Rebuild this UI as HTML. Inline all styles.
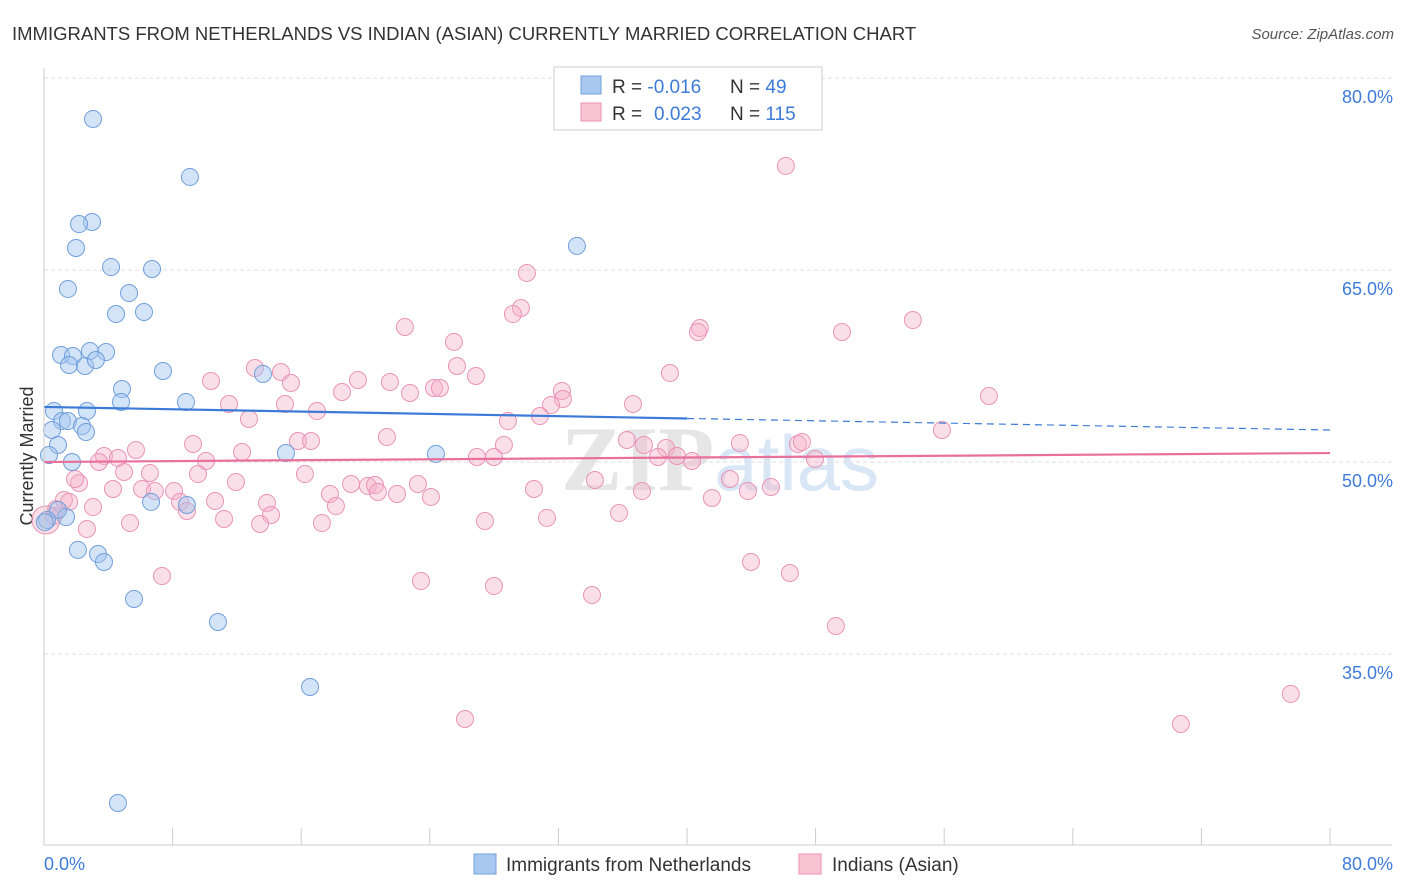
<!DOCTYPE html>
<html><head><meta charset="utf-8"><style>
body{margin:0;background:#fff;font-family:"Liberation Sans",sans-serif;}
#wrap{position:relative;width:1406px;height:892px;overflow:hidden;}
</style></head><body>
<div id="wrap">
<svg id="svg" width="1406" height="892" xmlns="http://www.w3.org/2000/svg">
<text x="12" y="40" font-size="18.5" fill="#333">IMMIGRANTS FROM NETHERLANDS VS INDIAN (ASIAN) CURRENTLY MARRIED CORRELATION CHART</text>
<text x="1394" y="39" font-size="15" fill="#555" font-style="italic" text-anchor="end">Source: ZipAtlas.com</text>
<text x="720" y="490" font-size="92" fill="#e6e6e6" text-anchor="middle" font-family="Liberation Serif,serif" font-weight="bold">ZIP<tspan fill="#d8e6f6" font-family="Liberation Sans,sans-serif" font-weight="normal" font-size="78">atlas</tspan></text>
<text transform="translate(33,456) rotate(-90)" font-size="18" fill="#333" text-anchor="middle">Currently Married</text>
<g id="grid"></g><g id="pts"></g><g id="trend"></g>
<line x1="44" y1="68" x2="44" y2="845" stroke="#ccc"/>
<line x1="44" y1="845" x2="1392" y2="845" stroke="#ccc"/>
<text x="44" y="870" font-size="18" fill="#3d7bd8">0.0%</text>
<text x="1393" y="870" font-size="18" fill="#3d7bd8" text-anchor="end">80.0%</text>
<g>
<rect x="554" y="67" width="268" height="63" fill="#fff" stroke="#ccc"/>
<rect x="581" y="76" width="20" height="18" fill="#a8c8f0" stroke="#6fa0dc"/>
<rect x="581" y="103" width="20" height="18" fill="#f8c4d4" stroke="#e890b0"/>
<text x="612" y="93" font-size="19" fill="#333">R = <tspan fill="#3d7bd8">-0.016</tspan><tspan x="730">N = </tspan><tspan fill="#3d7bd8">49</tspan></text>
<text x="612" y="120" font-size="19" fill="#333">R = <tspan fill="#3d7bd8" x="654">0.023</tspan><tspan x="730">N = </tspan><tspan fill="#3d7bd8">115</tspan></text>
</g>
<g>
<rect x="474" y="854" width="22" height="20" fill="#a8c8f0" stroke="#6fa0dc"/>
<text x="506" y="871" font-size="19" fill="#333">Immigrants from Netherlands</text>
<rect x="799" y="854" width="22" height="20" fill="#f8c4d4" stroke="#e890b0"/>
<text x="832" y="871" font-size="19" fill="#333">Indians (Asian)</text>
</g>
</svg>
</div>
<script>
const yTicks=[80,65,50,35];
const xTickVals=[0,8,16,24,32,40,48,56,64,72,80];
const blueX=[3.05,9.08,2.99,2.18,1.99,33.15,4.17,6.72,1.49,5.29,4.48,6.22,1.06,1.80,2.86,3.86,1.56,2.55,3.23,7.40,13.62,4.85,4.79,8.83,0.62,2.67,1.12,1.49,2.36,2.61,0.50,0.87,0.31,1.74,15.05,24.38,6.66,8.89,1.37,0.87,2.11,3.36,3.73,5.60,10.82,16.55,4.60,0.19,0.05];
const blueY=[76.8,72.27,68.75,68.59,66.72,66.88,65.23,65.08,63.52,63.2,61.56,61.72,58.36,58.28,58.67,58.59,57.58,57.5,57.97,57.11,56.88,55.7,54.69,54.69,53.98,53.98,53.2,53.2,52.81,52.34,52.5,51.33,50.55,50.0,50.7,50.63,46.88,46.64,45.7,46.25,43.13,42.81,42.19,39.3,37.5,32.42,23.36,45.47,45.3];
const pinkX=[46.15,30.04,29.67,29.17,22.45,40.80,40.68,49.64,54.05,25.50,25.69,26.87,38.94,13.12,14.74,15.36,10.39,19.53,21.52,18.54,22.77,24.26,24.63,32.22,32.28,31.54,58.78,11.51,14.99,16.98,30.85,12.75,28.86,36.64,55.86,21.33,15.80,16.61,9.27,5.72,12.32,3.73,36.26,37.32,38.69,38.19,39.37,40.31,43.29,46.90,47.15,47.96,26.93,27.99,28.61,3.42,4.60,10.08,4.98,6.59,9.58,16.23,42.67,2.18,1.93,11.94,23.26,19.10,20.15,20.59,20.77,34.27,37.20,4.29,6.10,8.09,17.79,21.96,30.48,43.79,45.22,6.90,8.46,8.89,10.64,13.87,18.16,24.07,41.55,3.05,0.75,1.24,1.56,0.62,2.67,5.35,11.20,14.12,13.44,17.29,27.43,31.29,35.77,7.34,23.45,27.99,34.09,43.98,46.40,49.26,26.19,70.72,77.56,0.12];
const pinkY=[73.13,64.77,62.03,61.56,60.55,60.47,60.16,60.16,61.09,59.38,57.5,56.72,56.95,57.34,57.03,56.17,56.33,56.41,56.25,55.47,55.39,55.78,55.78,55.55,54.92,54.45,55.16,54.53,54.53,53.98,53.59,53.36,53.2,54.53,52.5,51.95,51.64,51.64,51.41,50.94,50.78,50.47,51.72,51.33,51.09,50.39,50.47,50.08,51.48,51.41,51.56,50.23,50.39,50.39,51.33,50.0,50.31,50.08,49.22,49.14,49.06,49.06,48.67,48.36,48.67,48.44,48.28,48.28,48.13,48.2,47.66,48.59,47.73,47.89,47.89,47.73,47.5,47.5,47.89,47.73,48.05,47.73,46.88,46.17,46.95,46.8,46.56,47.27,47.19,46.48,46.33,47.03,46.88,45.78,44.77,45.23,45.55,45.86,45.16,45.23,45.39,45.63,46.02,41.09,40.7,40.31,39.61,42.19,41.33,37.19,29.92,29.53,31.88,45.47];
const blueTrend=[54.3,52.5];
const pinkTrend=[50.0,50.7];
const NS="http://www.w3.org/2000/svg";
const sx=v=>44+v*(1286/80);
const sy=v=>78+(80-v)*12.8;
function mk(tag,attrs,parent){const e=document.createElementNS(NS,tag);for(const k in attrs)e.setAttribute(k,attrs[k]);parent.appendChild(e);return e;}
const grid=document.getElementById('grid');
yTicks.forEach(t=>{
 const l=mk('line',{x1:44,x2:1392,y1:sy(t),y2:sy(t),stroke:'#ddd','stroke-dasharray':'4,3'},grid);
 
 
 const tx=mk('text',{x:1393,y:sy(t)+25,'font-size':18,fill:'#3d7bd8','text-anchor':'end'},grid);
 tx.textContent=t.toFixed(1)+'%';
 
 
});
xTickVals.forEach(t=>{
 const l=mk('line',{x1:sx(t),x2:sx(t),y1:828,y2:845,stroke:'#ccc'},grid);
 
 
});
const pts=document.getElementById('pts');
pinkX.forEach((x,i)=>{
 const big=i===pinkX.length-1;
 const c=mk('circle',{cx:sx(x),cy:sy(pinkY[i]),r:big?14:8.5,fill:'rgba(246,176,198,0.4)',stroke:'#e994b4','stroke-width':1},pts);
 
 
});
blueX.forEach((x,i)=>{
 const c=mk('circle',{cx:sx(x),cy:sy(blueY[i]),r:8.5,fill:'rgba(160,196,240,0.45)',stroke:'#6f9edb','stroke-width':1},pts);
 
 
});
const tr=document.getElementById('trend');
const bmid=blueTrend[0]+(blueTrend[1]-blueTrend[0])*0.5;
let t1=mk('line',{x1:sx(0),y1:sy(blueTrend[0]),x2:sx(40),y2:sy(bmid),stroke:'#3d7bd8','stroke-width':2.2},tr);


let t2=mk('line',{x1:sx(40),y1:sy(bmid),x2:sx(80),y2:sy(blueTrend[1]),stroke:'#3d7bd8','stroke-width':1.2,'stroke-dasharray':'7,5'},tr);


let t3=mk('line',{x1:sx(0),y1:sy(pinkTrend[0]),x2:sx(80),y2:sy(pinkTrend[1]),stroke:'#e8709a','stroke-width':2.2},tr);


</script>
</body></html>
